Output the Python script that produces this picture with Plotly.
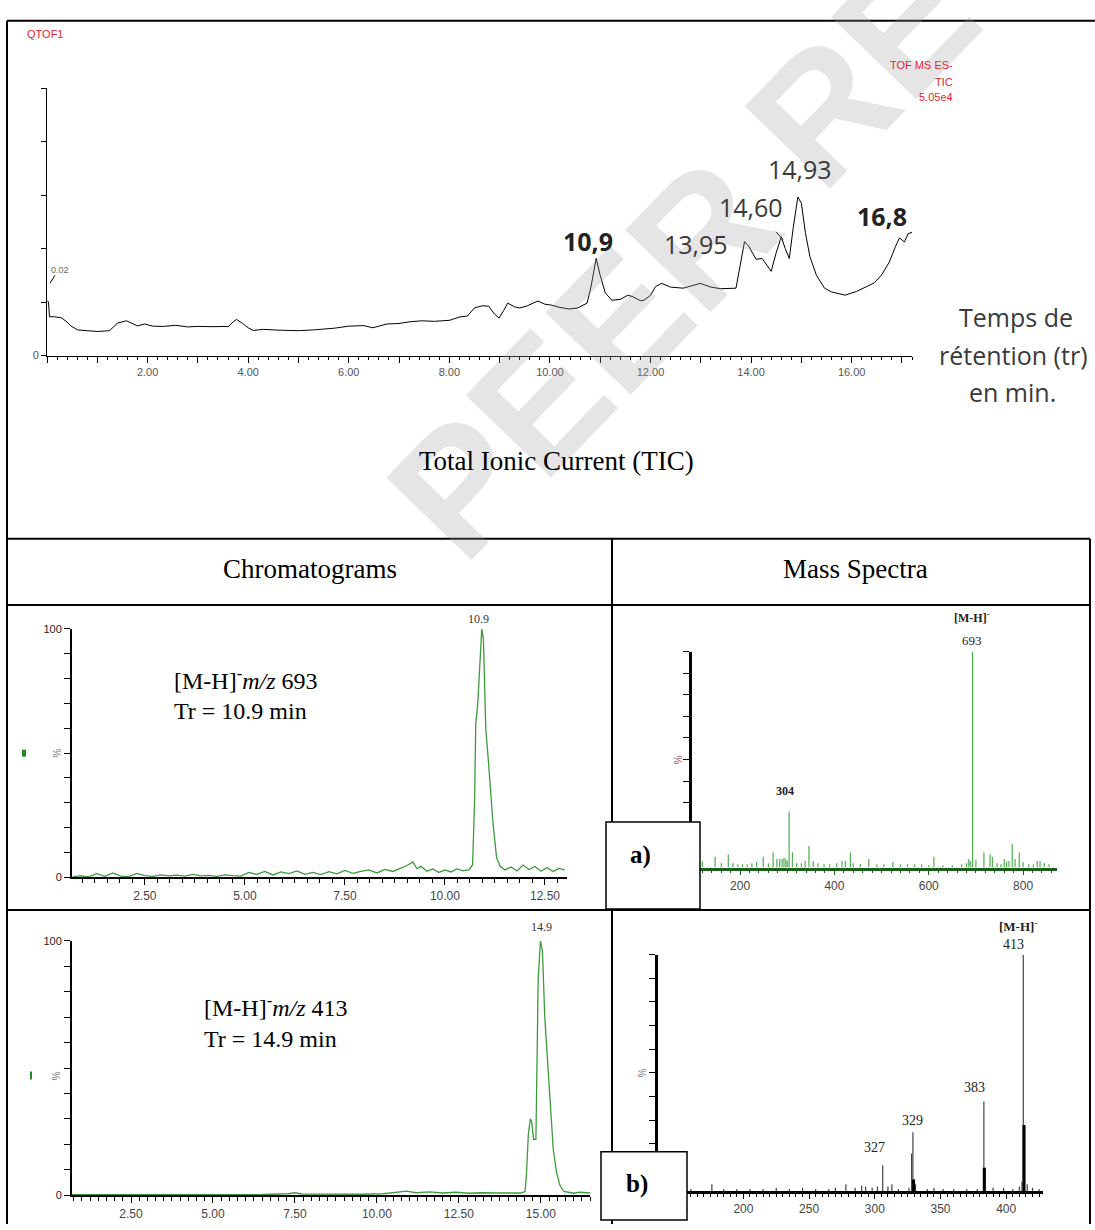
import plotly.graph_objects as go

W, H = 1095, 1230


def X(px):
    return px / W


def Y(py):
    return 1 - py / H


# ---------------- DATA ----------------
# Total ionic current (time in min, relative intensity %)
tic_time = [0.01, 0.03, 0.05, 0.15, 0.29, 0.40, 0.47, 0.61, 0.80, 1.00, 1.24, 1.41, 1.58, 1.70,
            1.80, 1.94, 2.10, 2.30, 2.56, 2.80, 3.00, 3.30, 3.61, 3.70, 3.77, 3.89, 4.00, 4.10,
            4.31, 4.60, 5.00, 5.30, 5.70, 6.00, 6.30, 6.48, 6.76, 7.00, 7.20, 7.45, 7.70, 8.01,
            8.20, 8.36, 8.50, 8.65, 8.78, 8.90, 8.99, 9.08, 9.16, 9.30, 9.40, 9.55, 9.76, 9.90,
            10.02, 10.20, 10.38, 10.55, 10.74, 10.82, 10.92, 11.00, 11.10, 11.23, 11.40, 11.55,
            11.65, 11.80, 11.87, 12.00, 12.10, 12.22, 12.40, 12.65, 12.80, 12.99, 13.20, 13.40,
            13.70, 13.78, 13.87, 13.95, 14.04, 14.10, 14.22, 14.30, 14.40, 14.50, 14.60, 14.68,
            14.76, 14.84, 14.93, 15.00, 15.08, 15.17, 15.30, 15.46, 15.60, 15.87, 16.10, 16.31,
            16.45, 16.59, 16.75, 16.87, 16.95, 17.05, 17.12, 17.22]
tic_int = [20.5, 20.0, 14.5, 14.5, 14.1, 12.5, 11.1, 9.6, 9.3, 9.0, 9.3, 12.2, 13.0, 12.0,
           11.1, 11.8, 11.0, 10.9, 11.3, 10.7, 10.9, 10.8, 10.9, 12.6, 13.5, 12.0, 10.4, 9.4,
           9.8, 9.5, 9.3, 9.6, 10.2, 11.0, 11.2, 10.4, 11.8, 12.0, 12.6, 13.0, 12.8, 13.2,
           14.4, 14.8, 17.8, 18.6, 18.5, 15.5, 14.0, 16.8, 19.6, 18.2, 17.8, 18.6, 20.4, 19.2,
           18.9, 18.0, 17.4, 17.8, 19.6, 26.0, 36.3, 30.0, 23.5, 20.7, 21.0, 22.6,
           22.0, 20.5, 20.7, 22.5, 25.8, 27.0, 25.6, 25.2, 26.0, 27.0, 25.6, 25.0,
           25.2, 33.0, 42.6, 41.0, 38.1, 36.0, 36.3, 34.0, 31.5, 38.5, 44.4, 40.0,
           36.3, 48.0, 59.3, 57.0, 46.0, 37.0, 30.0, 25.2, 23.8, 22.6, 24.0, 25.9,
           27.2, 30.0, 35.0, 40.7, 44.0, 42.5, 45.5, 46.3]
tic_peak_labels = ["10,9", "13,95", "14,60", "14,93", "16,8"]
tic_tick_labels = ["2.00", "4.00", "6.00", "8.00", "10.00", "12.00", "14.00", "16.00"]

# Chromatogram a)  [M-H]- m/z 693
chromA_time = [0.70, 0.90, 1.10, 1.30, 1.50, 1.70, 1.90, 2.10, 2.30, 2.50, 2.70, 2.90, 3.10, 3.30,
               3.50, 3.70, 3.90, 4.10, 4.30, 4.50, 4.70, 4.90, 5.10, 5.30, 5.50, 5.70, 5.90, 6.10,
               6.30, 6.50, 6.70, 6.90, 7.10, 7.30, 7.50, 7.70, 7.90, 8.10, 8.30, 8.50, 8.70, 8.90,
               9.05, 9.20, 9.30, 9.40, 9.55, 9.70, 9.85, 10.00, 10.15, 10.30, 10.45, 10.60, 10.69,
               10.74, 10.77, 10.82, 10.87, 10.92, 10.96, 11.02, 11.08, 11.12, 11.20, 11.29, 11.38,
               11.50, 11.65, 11.80, 11.95, 12.10, 12.25, 12.40, 12.55, 12.70, 12.85, 13.00]
chromA_int = [0.3, 0.6, 0.2, 1.5, 0.4, 1.8, 0.5, 0.3, 1.6, 0.7, 0.4, 1.0, 0.6, 0.9,
              0.5, 1.2, 0.6, 0.8, 0.4, 1.0, 0.7, 0.5, 2.0, 1.2, 2.4, 1.0, 2.2, 1.5,
              2.6, 1.2, 2.0, 1.1, 2.3, 1.4, 2.8, 1.6, 2.4, 3.0, 1.8, 3.2, 2.4, 3.6,
              4.8, 6.2, 3.5, 4.5, 2.5, 3.4, 2.0, 3.0, 2.2, 3.4, 2.6, 3.0, 5.0,
              30.0, 62.0, 70.0, 88.0, 100.0, 96.0, 60.0, 48.0, 40.0, 22.0, 8.0, 4.5,
              3.0, 4.2, 2.6, 5.0, 3.2, 4.4, 2.5, 4.0, 2.4, 3.6, 3.0]

# Chromatogram b)  [M-H]- m/z 413
chromB_time = [0.70, 1.50, 2.50, 3.50, 4.50, 5.50, 6.50, 7.30, 7.50, 7.70, 8.50, 9.50, 10.20, 10.60,
               10.90, 11.20, 11.60, 12.00, 12.40, 12.80, 13.20, 13.60, 14.00, 14.40, 14.52, 14.56,
               14.62, 14.68, 14.72, 14.78, 14.85, 14.92, 14.99, 15.05, 15.12, 15.17, 15.28, 15.38,
               15.48, 15.58, 15.70, 15.85, 16.00, 16.20, 16.50]
chromB_int = [0.2, 0.2, 0.2, 0.2, 0.2, 0.2, 0.3, 0.6, 1.0, 0.5, 0.4, 0.4, 0.6, 1.2,
              1.6, 1.0, 1.3, 0.9, 1.2, 0.8, 1.0, 0.9, 0.8, 0.9, 1.5, 8.0,
              24.0, 30.0, 29.0, 22.0, 22.0, 85.0, 100.0, 96.0, 70.0, 60.0, 38.0, 18.0,
              9.0, 4.0, 1.5, 1.0, 0.8, 1.2, 0.9]
chrom_tick_vals = [2.5, 5.0, 7.5, 10.0, 12.5, 15.0]
chrom_tick_text = ["2.50", "5.00", "7.50", "10.00", "12.50", "15.00"]

# Mass spectrum a)
massA_mz = [120, 147, 160, 175, 185, 195, 205, 215, 225, 235, 249, 260, 270, 278, 284, 289, 293,
            297, 300, 304, 311, 320, 330, 338, 346, 355, 365, 378, 390, 405, 416, 423, 434, 440,
            455, 473, 490, 505, 524, 540, 555, 570, 585, 600, 611, 630, 650, 670, 680, 685, 688,
            693, 700, 717, 730, 735, 745, 753, 760, 765, 770, 777, 783, 792, 800, 812, 822, 830,
            836, 845, 855]
massA_int = [3, 5, 2, 6, 2, 1.5, 1.5, 1.5, 2, 2.5, 5, 2, 7, 4, 4, 4, 4.5,
             4, 3, 26, 7, 2, 2, 3, 10, 3, 2, 1.5, 1.5, 2, 3, 3, 7, 2,
             1.5, 4, 1.5, 1.5, 2.5, 1.5, 1.5, 1.5, 1.5, 1, 5, 1, 1, 1.5, 2, 4, 3,
             100, 3.5, 7, 6, 5, 2, 1.5, 4, 2.5, 3, 11, 4, 7, 2.5, 1.5, 1.5, 3,
             3, 2, 1.5]
massA_ticks = [200, 400, 600, 800]

# Mass spectrum b)
massB_mz = [140, 150, 160, 176, 185, 195, 205, 215, 225, 235, 245, 255, 265, 270, 278, 285, 290,
            293, 298, 302, 306, 310, 313, 318, 326, 328, 329, 330, 331, 340, 345, 352, 360, 370,
            378, 383, 384, 390, 398, 405, 410, 412, 413, 414, 416, 420, 425]
massB_int = [1, 1.5, 1, 3, 1, 1, 1, 1, 1.5, 1, 1.5, 1, 1, 1.5, 3, 1.5, 2.5,
             2, 1.5, 2, 11, 2, 3, 1, 1.5, 16, 25, 5, 3, 1, 1.5, 1, 1, 1,
             1, 38, 10, 1.5, 1.5, 1, 2, 4, 100, 28, 3, 1.5, 1]
massB_core_mz = [329.5, 383.3, 413.5]
massB_core_int = [5, 10, 28]
massB_ticks = [150, 200, 250, 300, 350, 400]


def sticks(mz, inten):
    xs, ys = [], []
    for m, v in zip(mz, inten):
        xs += [m, m, None]
        ys += [0, v, None]
    return xs, ys


fig = go.Figure()
common = dict(mode="lines", showlegend=False, hoverinfo="skip")

fig.add_trace(go.Scatter(x=tic_time, y=tic_int, line=dict(color="black", width=1),
                         xaxis="x", yaxis="y", **common))
fig.add_trace(go.Scatter(x=chromA_time, y=chromA_int, line=dict(color="#3c9a3c", width=1.3),
                         xaxis="x2", yaxis="y2", **common))
xa, ya = sticks(massA_mz, massA_int)
fig.add_trace(go.Scatter(x=xa, y=ya, line=dict(color="#4fae4f", width=1.2),
                         xaxis="x3", yaxis="y3", **common))
fig.add_trace(go.Scatter(x=chromB_time, y=chromB_int, line=dict(color="#3c9a3c", width=1.3),
                         xaxis="x4", yaxis="y4", **common))
xb, yb = sticks(massB_mz, massB_int)
fig.add_trace(go.Scatter(x=xb, y=yb, line=dict(color="#444444", width=1.2),
                         xaxis="x5", yaxis="y5", **common))
xc, yc = sticks(massB_core_mz, massB_core_int)
fig.add_trace(go.Scatter(x=xc, y=yc, line=dict(color="black", width=3),
                         xaxis="x5", yaxis="y5", **common))

tickfont_small = dict(family="Liberation Sans, Arial", size=11, color="#555555")


def xax(dom, rng, tv, tt, lw, lc, minor_dtick, anchor, ticklen=6, minor_len=4, font=None):
    return dict(domain=[X(dom[0]), X(dom[1])], range=rng, anchor=anchor,
                showline=True, linecolor=lc, linewidth=lw, mirror=False,
                ticks="outside", ticklen=ticklen, tickwidth=1, tickcolor=lc,
                tickvals=tv, ticktext=tt, tickfont=font or tickfont_small,
                minor=dict(ticks="outside", ticklen=minor_len, dtick=minor_dtick, tick0=0,
                           tickcolor=lc, tickwidth=1),
                showgrid=False, zeroline=False, fixedrange=True)


def yax(dom, tv, tt, lw, anchor, ticklen=5, show=True, font=None):
    return dict(domain=[Y(dom[1]), Y(dom[0])], range=[0, 100], anchor=anchor,
                showline=True, linecolor="black", linewidth=lw,
                ticks="outside", ticklen=ticklen, tickwidth=1, tickcolor="black",
                tickvals=tv, ticktext=tt, showticklabels=show,
                tickfont=font or tickfont_small,
                showgrid=False, zeroline=False, fixedrange=True)


tic_vals = list(range(0, 18))
tic_text = []
for v in tic_vals:
    if v > 0 and v % 2 == 0:
        tic_text.append(tic_tick_labels[v // 2 - 1])
    else:
        tic_text.append("")

ten = list(range(0, 101, 10))
ten_lbl = ["0"] + [""] * 9 + ["100"]
axfont = dict(family="Liberation Sans, Arial", size=12, color="#444444")

layout = dict(
    width=W, height=H, margin=dict(l=0, r=0, t=0, b=0),
    paper_bgcolor="white", plot_bgcolor="rgba(0,0,0,0)",
    xaxis=xax((47, 912), [0, 17.2], tic_vals, tic_text, 1, "black", 0.2, "y",
              ticklen=6, minor_len=3, font=dict(family="Liberation Sans, Arial", size=11, color="#555")),
    yaxis=yax((83, 353), [0, 20, 40, 60, 80, 100], ["0", "", "", "", "", ""], 1, "x"),
    xaxis2=xax((72, 567), [0.68, 13.05], chrom_tick_vals, chrom_tick_text, 2, "black", 0.3125, "y2",
               font=axfont),
    yaxis2=yax((629, 880), ten, ten_lbl, 2, "x2", ticklen=6,
               font=dict(family="Liberation Sans, Arial", size=11, color="#222")),
    xaxis3=xax((692, 1057), [98, 872], massA_ticks, [str(v) for v in massA_ticks], 2.5, "#1b5e1b",
               20, "y3", ticklen=5, minor_len=3, font=axfont),
    yaxis3=yax((652, 870), ten, [""] * 11, 3, "x3", ticklen=6, show=False),
    xaxis4=xax((72, 590), [0.70, 16.5], chrom_tick_vals, chrom_tick_text, 2, "black", 0.25, "y4",
               font=axfont),
    yaxis4=yax((944, 1201), ten, ten_lbl, 2, "x4", ticklen=6,
               font=dict(family="Liberation Sans, Arial", size=11, color="#222")),
    xaxis5=xax((658, 1043), [135, 428], massB_ticks, [str(v) for v in massB_ticks], 2.5, "black",
               5, "y5", ticklen=5, minor_len=3, font=axfont),
    yaxis5=yax((958, 1197), ten, [""] * 11, 3, "x5", ticklen=6, show=False),
)

# ---------------- table lines ----------------
shapes = []


def line(x0, y0, x1, y1, w=2):
    shapes.append(dict(type="line", xref="paper", yref="paper", x0=X(x0), y0=Y(y0), x1=X(x1),
                       y1=Y(y1), line=dict(color="black", width=w), layer="above"))


line(7, 15, 1095, 15)
line(7, 15, 7, 1230)
line(1090, 538, 1090, 1230)
line(7, 538, 1090, 538)
line(7, 605, 1090, 605)
line(7, 913, 1090, 913)
line(612, 538, 612, 1230)

for (x0, y0, x1, y1) in [(606, 824, 700, 912), (601, 1157, 687, 1226)]:
    shapes.append(dict(type="rect", xref="paper", yref="paper", x0=X(x0), y0=Y(y1), x1=X(x1), y1=Y(y0),
                       line=dict(color="black", width=1.5), fillcolor="white", layer="above"))
# small green marks left of the chromatograms
for (x0, y0, x1, y1) in [(22, 751, 26, 758), (30, 1076, 32, 1084)]:
    shapes.append(dict(type="rect", xref="paper", yref="paper", x0=X(x0), y0=Y(y1), x1=X(x1), y1=Y(y0),
                       line=dict(width=0), fillcolor="#1f8a1f", layer="above"))
# small leaders near 0.02 and 14,60
line(55, 272, 50, 280, w=1)
line(776, 228, 783, 236, w=1)

# ---------------- texts ----------------
ann = []
SERIF = "Liberation Serif, Times New Roman"
SANS = "Liberation Sans, Arial"
SEGOE = "Open Sans, Noto Sans"


def txt(x, y, text, size, family, color="black", xanchor="center", angle=0, yanchor="middle"):
    ann.append(dict(x=X(x), y=Y(y), xref="paper", yref="paper", text=text, showarrow=False,
                    font=dict(family=family, size=size, color=color), xanchor=xanchor,
                    yanchor=yanchor, textangle=angle))


# watermark
txt(835, 92, "<b>PEER REVIEW</b>", 172, SANS, color="rgba(160,160,160,0.27)", angle=-46)

txt(25, 28, "QTOF1", 11, SANS, color="#e8262b", xanchor="left")
txt(955, 60, "TOF MS ES-", 11, SANS, color="#e8262b", xanchor="right")
txt(955, 77, "TIC", 11, SANS, color="#e8262b", xanchor="right")
txt(955, 92, "5.05e4", 11, SANS, color="#e8262b", xanchor="right")
txt(49, 267, "0.02", 9, SANS, color="#666", xanchor="left")

pk_pos = [(588, 237, True), (696, 240, False), (751, 203, False), (800, 165, False), (882, 212, True)]
for lbl, (px, py, bold) in zip(tic_peak_labels, pk_pos):
    t = "<b>%s</b>" % lbl if bold else lbl
    txt(px, py, t, 25, SEGOE, color="#222" if bold else "#3a3a3a")

txt(1016, 314, "Temps de", 25, SEGOE, color="#3a3a3a")
txt(1013, 352, "rétention (tr)", 25, SEGOE, color="#3a3a3a")
txt(1012, 390, "en min.", 25, SEGOE, color="#3a3a3a")

txt(556, 459, "Total Ionic Current (TIC)", 27, SERIF)
txt(310, 569, "Chromatograms", 27, SERIF)
txt(855, 569, "Mass Spectra", 27, SERIF)

txt(172, 680, "[M-H]<sup>-</sup><i>m/z</i> 693", 24, SERIF, xanchor="left")
txt(172, 712, "Tr = 10.9 min", 24, SERIF, xanchor="left")
txt(202, 1010, "[M-H]<sup>-</sup><i>m/z</i> 413", 24, SERIF, xanchor="left")
txt(202, 1043, "Tr = 14.9 min", 24, SERIF, xanchor="left")

txt(478, 619, "10.9", 12, SERIF, color="#333")
txt(541, 930, "14.9", 12, SERIF, color="#333")
txt(56, 754, "%", 10, SANS, color="#777", angle=90)
txt(56, 1080, "%", 10, SANS, color="#777", angle=90)

txt(972, 618, "<b>[M-H]<sup>-</sup></b>", 12, SERIF, color="#222")
txt(972, 641, "693", 13, SERIF, color="#222")
txt(785, 793, "<b>304</b>", 12, SERIF, color="#222")
txt(677, 761, "%", 10, SANS, color="#a05050", angle=90)

txt(1018, 929, "<b>[M-H]<sup>-</sup></b>", 13, SERIF, color="#222")
txt(1013, 948, "413", 14, SERIF, color="#222")
txt(974, 1092, "383", 14, SERIF, color="#222")
txt(912, 1125, "329", 14, SERIF, color="#222")
txt(874, 1153, "327", 14, SERIF, color="#222")
txt(642, 1077, "%", 10, SANS, color="#777", angle=90)

txt(640, 857, "<b>a)</b>", 25, SERIF)
txt(637, 1190, "<b>b)</b>", 25, SERIF)

layout["shapes"] = shapes
layout["annotations"] = ann
fig.update_layout(**layout)
fig.write_html("out.html", config={"displayModeBar": False},
               post_script="document.body.style.margin='0px';document.body.style.overflow='hidden';")
